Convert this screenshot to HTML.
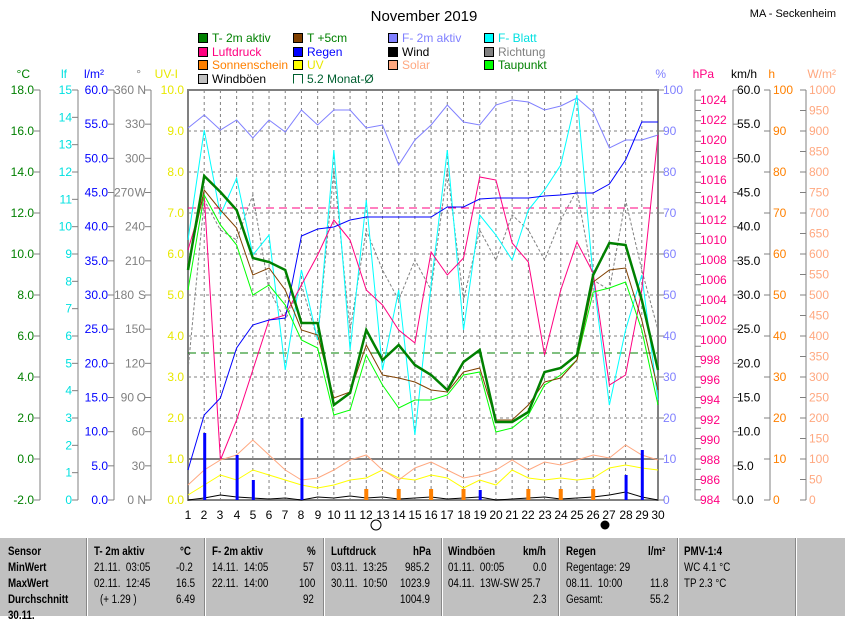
<!DOCTYPE html>
<html><head><meta charset="utf-8"><style>
body{margin:0;background:#fff;width:845px;height:615px;overflow:hidden;font-family:"Liberation Sans",sans-serif}
svg text{font-family:"Liberation Sans",sans-serif;font-size:12px}
#tbl{position:absolute;left:0;top:537px;width:845px;height:78px;background:#c0c0c0;border-top:1px solid #fff}
#tbl div{position:absolute;font-size:11.5px;white-space:nowrap;font-family:"Liberation Sans",sans-serif;transform:scaleX(0.85);transform-origin:left}
.sep{position:absolute;top:0;width:1px;height:78px;background:#fff;border-left:1px solid #888}
</style></head><body>
<svg id="s" width="845" height="537" style="position:absolute;left:0;top:0">
<text x="424" y="21" text-anchor="middle" font-size="15" style="font-size:15px">November 2019</text>
<text x="836" y="17" text-anchor="end" style="font-size:11px">MA - Seckenheim</text>
<g style="font-size:12px">
<rect x="198.5" y="33.5" width="9" height="9" fill="#008000" stroke="#000"/><text x="212" y="42" fill="#008000">T- 2m aktiv</text>
<rect x="293.5" y="33.5" width="9" height="9" fill="#804000" stroke="#000"/><text x="307" y="42" fill="#008000">T +5cm</text>
<rect x="388.5" y="33.5" width="9" height="9" fill="#8080ff" stroke="#000"/><text x="402" y="42" fill="#8080ff">F- 2m aktiv</text>
<rect x="484.5" y="33.5" width="9" height="9" fill="#00ffff" stroke="#000"/><text x="498" y="42" fill="#00e0e0">F- Blatt</text>
<rect x="198.5" y="47.5" width="9" height="9" fill="#ff0080" stroke="#000"/><text x="212" y="56" fill="#ff0080">Luftdruck</text>
<rect x="293.5" y="47.5" width="9" height="9" fill="#0000ff" stroke="#000"/><text x="307" y="56" fill="#0000ff">Regen</text>
<rect x="388.5" y="47.5" width="9" height="9" fill="#000" stroke="#000"/><text x="402" y="56" fill="#000">Wind</text>
<rect x="484.5" y="47.5" width="9" height="9" fill="#808080" stroke="#000"/><text x="498" y="56" fill="#808080">Richtung</text>
<rect x="198.5" y="60.5" width="9" height="9" fill="#ff8000" stroke="#000"/><text x="212" y="69" fill="#ff8000">Sonnenschein</text>
<rect x="293.5" y="60.5" width="9" height="9" fill="#ffff00" stroke="#000"/><text x="307" y="69" fill="#e8e800">UV</text>
<rect x="388.5" y="60.5" width="9" height="9" fill="#ffa880" stroke="#000"/><text x="402" y="69" fill="#ffa880">Solar</text>
<rect x="484.5" y="60.5" width="9" height="9" fill="#00ff00" stroke="#000"/><text x="498" y="69" fill="#008000">Taupunkt</text>
<rect x="198.5" y="74.5" width="9" height="9" fill="#c0c0c0" stroke="#000"/><text x="212" y="83" fill="#000">Windböen</text>
<path d="M293.5 83.5V74.5H302.5V83.5" fill="none" stroke="#006030"/><text x="307" y="83" fill="#006030">5.2 Monat-Ø</text>
</g>
<g style="font-size:11px">
<text x="30" y="78" fill="#008000" text-anchor="end">°C</text>
<text x="67" y="78" fill="#00e0e0" text-anchor="end">lf</text>
<text x="104" y="78" fill="#0000ff" text-anchor="end">l/m²</text>
<text x="141" y="78" fill="#808080" text-anchor="end">°</text>
<text x="178" y="78" fill="#e8e800" text-anchor="end">UV-I</text>
<text x="666" y="78" fill="#8080ff" text-anchor="end">%</text>
<text x="714" y="78" fill="#ff0080" text-anchor="end">hPa</text>
<text x="757" y="78" fill="#000" text-anchor="end">km/h</text>
<text x="775" y="78" fill="#ff8000" text-anchor="end">h</text>
<text x="836" y="78" fill="#ffa880" text-anchor="end">W/m²</text>
</g>
<g id="labels" style="font-size:12px"></g>
<g id="plot"></g>
<g style="font-size:12px" text-anchor="middle">
<text x="188" y="519">1</text><text x="204" y="519">2</text><text x="220" y="519">3</text><text x="237" y="519">4</text><text x="253" y="519">5</text><text x="269" y="519">6</text><text x="285" y="519">7</text><text x="301" y="519">8</text><text x="318" y="519">9</text><text x="334" y="519">10</text><text x="350" y="519">11</text><text x="366" y="519">12</text><text x="383" y="519">13</text><text x="399" y="519">14</text><text x="415" y="519">15</text><text x="431" y="519">16</text><text x="447" y="519">17</text><text x="464" y="519">18</text><text x="480" y="519">19</text><text x="496" y="519">20</text><text x="512" y="519">21</text><text x="528" y="519">22</text><text x="545" y="519">23</text><text x="561" y="519">24</text><text x="577" y="519">25</text><text x="593" y="519">26</text><text x="609" y="519">27</text><text x="626" y="519">28</text><text x="642" y="519">29</text><text x="658" y="519">30</text>
</g>
<circle cx="376" cy="525" r="5" fill="#fff" stroke="#000"/>
<circle cx="605" cy="525" r="4.5" fill="#000"/>
</svg>
<div id="tbl">
<span class="sep" style="left:86px"></span><span class="sep" style="left:204px"></span><span class="sep" style="left:323px"></span><span class="sep" style="left:441px"></span><span class="sep" style="left:558px"></span><span class="sep" style="left:677px"></span><span class="sep" style="left:795px"></span>
<div style="left:8px;top:8px;font-weight:bold">Sensor</div>
<div style="left:8px;top:24px;font-weight:bold">MinWert</div>
<div style="left:8px;top:40px;font-weight:bold">MaxWert</div>
<div style="left:8px;top:56px;font-weight:bold">Durchschnitt</div>
<div style="left:8px;top:72px;font-weight:bold">30.11.</div>
<div style="left:94px;top:8px;font-weight:bold">T- 2m aktiv</div><div style="left:180px;top:8px;font-weight:bold">°C</div>
<div style="left:94px;top:24px">21.11.&nbsp; 03:05</div><div style="left:176px;top:24px">-0.2</div>
<div style="left:94px;top:40px">02.11.&nbsp; 12:45</div><div style="left:176px;top:40px">16.5</div>
<div style="left:100px;top:56px">(+ 1.29 )</div><div style="left:176px;top:56px">6.49</div>
<div style="left:212px;top:8px;font-weight:bold">F- 2m aktiv</div><div style="left:307px;top:8px;font-weight:bold">%</div>
<div style="left:212px;top:24px">14.11.&nbsp; 14:05</div><div style="left:303px;top:24px">57</div>
<div style="left:212px;top:40px">22.11.&nbsp; 14:00</div><div style="left:299px;top:40px">100</div>
<div style="left:303px;top:56px">92</div>
<div style="left:331px;top:8px;font-weight:bold">Luftdruck</div><div style="left:413px;top:8px;font-weight:bold">hPa</div>
<div style="left:331px;top:24px">03.11.&nbsp; 13:25</div><div style="left:405px;top:24px">985.2</div>
<div style="left:331px;top:40px">30.11.&nbsp; 10:50</div><div style="left:400px;top:40px">1023.9</div>
<div style="left:400px;top:56px">1004.9</div>
<div style="left:448px;top:8px;font-weight:bold">Windböen</div><div style="left:523px;top:8px;font-weight:bold">km/h</div>
<div style="left:448px;top:24px">01.11.&nbsp; 00:05</div><div style="left:533px;top:24px">0.0</div>
<div style="left:448px;top:40px">04.11.&nbsp; 13W-SW 25.7</div>
<div style="left:533px;top:56px">2.3</div>
<div style="left:566px;top:8px;font-weight:bold">Regen</div><div style="left:648px;top:8px;font-weight:bold">l/m²</div>
<div style="left:566px;top:24px">Regentage: 29</div>
<div style="left:566px;top:40px">08.11.&nbsp; 10:00</div><div style="left:650px;top:40px">11.8</div>
<div style="left:566px;top:56px">Gesamt:</div><div style="left:650px;top:56px">55.2</div>
<div style="left:684px;top:8px;font-weight:bold">PMV-1:4</div>
<div style="left:684px;top:24px">WC 4.1 °C</div>
<div style="left:684px;top:40px">TP 2.3 °C</div>
</div>
<script>
const NS="http://www.w3.org/2000/svg",P=document.getElementById('plot'),L=document.getElementById('labels');
function el(t,a,p){const e=document.createElementNS(NS,t);for(const k in a)e.setAttribute(k,a[k]);(p||P).appendChild(e);return e;}
function X(d){return 188+(d-1)*470/29;}
for(let d=2;d<30;d++)el('line',{x1:X(d),y1:90,x2:X(d),y2:500,stroke:'#808080','stroke-dasharray':'3,3'});
for(let i=1;i<10;i++)el('line',{x1:188,y1:90+i*41,x2:658,y2:90+i*41,stroke:'#808080','stroke-dasharray':'3,3'});
el('line',{x1:188,y1:459,x2:658,y2:459,stroke:'#808080','stroke-width':2});
el('rect',{x:188,y:90,width:470,height:410,fill:'none',stroke:'#808080','stroke-width':2});
el('line',{x1:188,y1:208,x2:658,y2:208,stroke:'#ff0080','stroke-dasharray':'8,5'});
el('line',{x1:188,y1:353,x2:658,y2:353,stroke:'#008000','stroke-dasharray':'8,5'});
function axis(x,n,col,side){el('line',{x1:x,y1:90,x2:x,y2:500,stroke:'#808080'});for(let i=0;i<=n;i++){const y=90+i*410/n;el('line',{x1:side<0?x-6:x,y1:y,x2:side<0?x:x+6,y2:y,stroke:'#808080'});}}
axis(40,10,0,-1);axis(78,15,0,-1);axis(114,12,0,-1);axis(151,12,0,-1);axis(770,10,0,-1);axis(806,20,0,-1);
axis(658,10,0,1);axis(695,40,0,1);axis(733,12,0,1);
function lab(x,y,t,c,anc){const e=el('text',{x:x,y:y+4,fill:c,'text-anchor':anc||'end'},L);e.textContent=t;}
for(let i=0;i<=10;i++){const y=90+i*41;lab(34,y,(18-2*i).toFixed(1),'#008000');lab(184,y,(10-i).toFixed(1),'#e8e800');lab(663,y,String(100-10*i),'#8080ff','start');lab(773,y,String(100-10*i),'#ff8000','start');}
for(let i=0;i<=15;i++)lab(72,90+i*410/15,String(15-i),'#00e0e0');
const dn={0:'N',3:'O',6:'S',9:'W',12:'N'};
for(let i=0;i<=12;i++){const y=90+i*410/12;lab(108,y,(60-5*i).toFixed(1),'#0000ff');lab(737,y,(60-5*i).toFixed(1),'#000','start');lab(dn[12-i]?134:145,y,String(360-30*i),'#808080');if(dn[12-i])lab(146,y,dn[12-i],'#808080');}
for(let i=0;i<=20;i++){lab(809,90+i*20.5,String(1000-50*i),'#ffa880','start');}
for(let v=984;v<=1024;v+=2){lab(700,500-(v-984)*10,String(v),'#ff0080','start');}
function line(ys,col,w,dash){el('polyline',{points:ys.map((y,i)=>X(i+1)+','+y).join(' '),fill:'none',stroke:col,'stroke-width':w||1,'stroke-dasharray':dash||''});}
line([370,200,230,240,195,290,320,285,340,170,330,230,270,300,260,290,170,300,230,260,215,230,260,220,190,280,290,200,270,330],'#808080',1,'3,2');
line([128,115,130,120,138,120,132,110,125,110,110,128,125,165,140,125,105,122,125,105,100,102,110,106,98,112,148,140,140,135],'#8080ff');
line([240,130,215,178,255,235,370,270,340,150,350,200,370,290,435,285,150,330,215,235,260,210,190,165,95,278,405,330,275,400],'#00ffff');
line([250,195,460,420,370,320,315,285,255,220,240,290,305,330,343,252,275,258,177,180,243,262,355,290,242,273,385,375,290,135],'#ff0080');
line([470,415,398,348,325,320,318,236,229,227,220,217,217,217,217,217,207,207,199,198,198,198,196,195,193,193,184,160,122,122],'#0000ff');
line([495,485,475,480,470,475,480,485,488,485,480,478,470,478,480,475,478,488,480,485,470,478,480,478,480,478,468,465,468,470],'#ffff00');
line([485,470,460,455,440,455,470,480,478,470,460,455,470,480,468,462,470,478,475,470,460,470,462,465,460,455,458,445,455,460],'#ffa880');
line([500,498,495,497,498,499,498,500,497,498,496,498,497,499,498,497,499,498,497,500,499,498,497,499,498,497,495,492,497,500],'#000');
[[2,433],[4,455],[5,480],[8,418],[19,490],[28,475],[29,450]].forEach(a=>el('rect',{x:X(a[0])-1,y:a[1],width:3,height:500-a[1],fill:'#0000ff'}));
[12,14,16,18,22,24,26].forEach(d=>el('rect',{x:X(d)-2,y:489,width:4,height:11,fill:'#ff8000'}));
line([290,195,225,245,295,285,305,340,348,415,410,355,385,408,400,400,395,375,372,432,428,415,385,375,360,292,288,282,330,405],'#00ff00');
line([265,190,210,228,275,268,290,330,335,398,392,345,375,378,382,390,392,372,368,420,420,405,382,378,360,282,270,268,320,390],'#804000');
line([270,176,192,210,258,262,270,323,323,405,393,330,360,345,365,375,390,362,350,422,422,412,372,368,355,275,243,245,300,370],'#008000',2.5);
</script>
</body></html>
